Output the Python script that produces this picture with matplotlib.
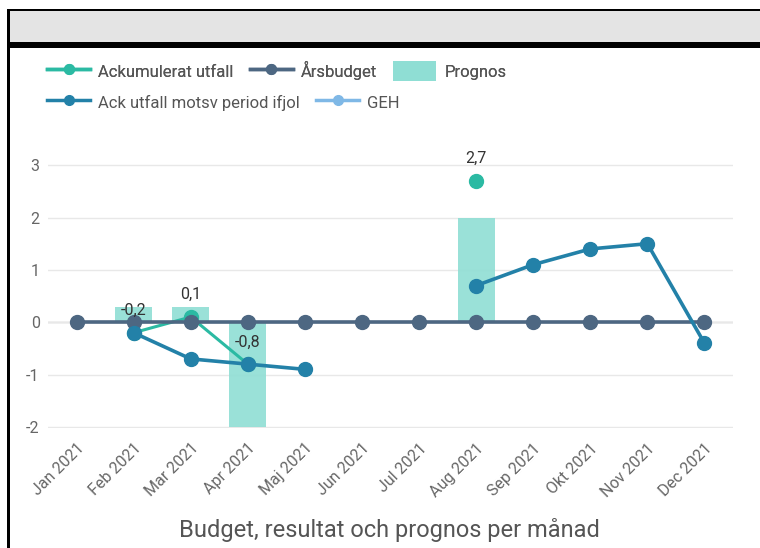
import matplotlib.pyplot as plt
import numpy as np
from matplotlib.lines import Line2D
from matplotlib.patches import Patch, Rectangle

plt.rcParams['font.family'] = ['Roboto', 'DejaVu Sans']
plt.rcParams['axes.unicode_minus'] = False

# monthly data (MSEK)
months = ['Jan 2021', 'Feb 2021', 'Mar 2021', 'Apr 2021', 'Maj 2021', 'Jun 2021',
          'Jul 2021', 'Aug 2021', 'Sep 2021', 'Okt 2021', 'Nov 2021', 'Dec 2021']
ack_utfall = [np.nan, -0.2, 0.1, -0.8, np.nan, np.nan, np.nan, 2.7, np.nan, np.nan, np.nan, np.nan]
arsbudget = [0, 0, 0, 0, 0, 0, 0, 0, 0, 0, 0, 0]
prognos = [np.nan, 0.3, 0.3, -2.0, np.nan, np.nan, np.nan, 2.0, np.nan, np.nan, np.nan, np.nan]
ack_ifjol = [np.nan, -0.2, -0.7, -0.8, -0.9, np.nan, np.nan, 0.7, 1.1, 1.4, 1.5, -0.4]

c_ack = '#2bbaa3'
c_budget = '#4d6782'
c_prognos = '#8fded4'
c_ifjol = '#2381a8'
c_geh = '#7fb8e6'
grey_txt = '#666666'

fig = plt.figure(figsize=(7.6, 5.48), dpi=100)

# header band with black frame
fig.add_artist(Rectangle((9 / 760, 1 - 42 / 548), 1, 31 / 548, transform=fig.transFigure,
                         facecolor='#e4e4e4', edgecolor='none'))
fig.add_artist(Rectangle((7 / 760, 1 - 11 / 548), 1, 2.5 / 548, transform=fig.transFigure,
                         facecolor='black', edgecolor='none'))
fig.add_artist(Rectangle((7 / 760, 1 - 48 / 548), 1, 6 / 548, transform=fig.transFigure,
                         facecolor='black', edgecolor='none'))
fig.add_artist(Rectangle((7 / 760, 0), 2.5 / 760, 1 - 9 / 548, transform=fig.transFigure,
                         facecolor='black', edgecolor='none'))

ax = fig.add_axes([48 / 760, 1 - 428 / 548, 685 / 760, 289 / 548])
x = np.arange(len(months))

ax.bar(x, prognos, width=0.65, color=c_prognos, alpha=0.9, zorder=2)
ax.plot(x, ack_utfall, '-o', color=c_ack, lw=2.2, ms=10, zorder=3)
ax.plot(x, arsbudget, '-o', color=c_budget, lw=2.6, ms=10, zorder=4)
ax.plot(x, ack_ifjol, '-o', color=c_ifjol, lw=2.6, ms=10, zorder=5)

for xi, v in zip(x, ack_utfall):
    if not np.isnan(v):
        ax.annotate(f'{v:.1f}'.replace('.', ','), (xi, v), xytext=(0, 16),
                    textcoords='offset points', ha='center', va='center',
                    fontsize=11.5, color='#333333', zorder=6)

ax.set_xlim(-0.5, 11.5)
ax.set_ylim(-2.02, 3.5)
ax.set_yticks([-2, -1, 0, 1, 2, 3])
ax.set_xticks(x)
ax.set_xticklabels(months, rotation=45, ha='right', rotation_mode='anchor')
ax.tick_params(axis='both', length=0, colors=grey_txt, labelsize=11.5)
ax.tick_params(axis='x', pad=9)
ax.tick_params(axis='y', pad=6)
ax.grid(axis='y', color='#e8e8e8', lw=1, zorder=0)
ax.axhline(0, color='#bbbbbb', lw=1, zorder=1)
for s in ax.spines.values():
    s.set_visible(False)

# legend, two rows
leg_kw = dict(frameon=False, fontsize=12, handlelength=2.6, handleheight=1.45,
              columnspacing=0.95, handletextpad=0.48, labelcolor='#555555',
              loc='center left', borderpad=0, borderaxespad=0)
h1 = [Line2D([], [], color=c_ack, lw=2.5, marker='o', ms=7),
      Line2D([], [], color=c_budget, lw=2.5, marker='o', ms=7),
      Patch(facecolor=c_prognos, edgecolor='none')]
h2 = [Line2D([], [], color=c_ifjol, lw=2.5, marker='o', ms=7),
      Line2D([], [], color=c_geh, lw=2.5, marker='o', ms=7)]
leg1 = fig.legend(h1, ['Ackumulerat utfall', 'Årsbudget', 'Prognos'], ncol=3,
                  bbox_to_anchor=(47 / 760, 1 - 71 / 548), **leg_kw)
fig.add_artist(leg1)
fig.legend(h2, ['Ack utfall motsv period ifjol', 'GEH'], ncol=2,
           bbox_to_anchor=(47 / 760, 1 - 102 / 548), **leg_kw)

fig.text(389 / 760, 1 - 530 / 548, 'Budget, resultat och prognos per månad',
         ha='center', va='center', fontsize=17, color='#555555')

fig.savefig('out.png', dpi=100)
